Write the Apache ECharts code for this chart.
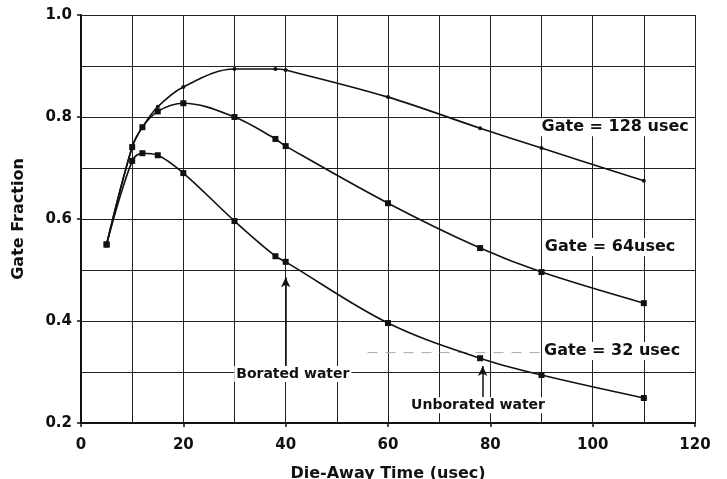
<!DOCTYPE html>
<html>
<head>
<meta charset="utf-8">
<title>Gate Fraction vs Die-Away Time</title>
<script src="https://cdn.jsdelivr.net/npm/echarts@6/dist/echarts.min.js"></script>
<style>
  html, body { margin: 0; padding: 0; background: #fff; }
  #chart { width: 727px; height: 479px; }
</style>
</head>
<body>
<div id="chart"></div>
<script>
// Die-away times (usec) at which each gate fraction was computed
const dieAway = [5, 10, 12, 15, 20, 30, 38, 40, 60, 78, 90, 110];

// Gate fraction for each gate width
const gate128 = [0.55, 0.741, 0.78, 0.820, 0.859, 0.894, 0.894, 0.892, 0.839, 0.778, 0.739, 0.675];
const gate64  = [0.55, 0.741, 0.78, 0.811, 0.827, 0.800, 0.757, 0.743, 0.631, 0.543, 0.496, 0.435];
const gate32  = [0.55, 0.714, 0.729, 0.725, 0.690, 0.596, 0.527, 0.516, 0.396, 0.327, 0.294, 0.249];

// Curve labels and water annotations (text, x, y in data units, font size)
const annotations = [
  ['Gate = 128 usec', 104.4, 0.780, 16],
  ['Gate = 64usec',   103.4, 0.545, 16],
  ['Gate = 32 usec',  103.8, 0.341, 16],
  ['Borated water',   41.4,  0.296, 14],
  ['Unborated water', 77.6,  0.235, 14]
];
// Arrows pointing to the borated / unborated water points
const arrows = [
  [[40, 0.310], [40, 0.486]],
  [[78.5, 0.251], [78.5, 0.312]]
];
// Faint dashed leader left of the 32 usec label
const leader = [[56, 0.338], [90, 0.338]];

const FONT = 'DejaVu Sans';

function pairs(xs, ys) { return xs.map((x, i) => [x, ys[i]]); }

function curve(name, ys, symbol, size) {
  return {
    name: name,
    type: 'line',
    data: pairs(dieAway, ys),
    smooth: 0.35,
    symbol: symbol,
    symbolSize: size,
    showAllSymbol: true,
    lineStyle: { color: '#111', width: 1.6 },
    itemStyle: { color: '#111' },
    z: 3
  };
}

const chart = echarts.init(document.getElementById('chart'), null, { renderer: 'canvas' });

const axisFont = { fontFamily: FONT, fontWeight: 'bold', color: '#111' };

chart.setOption({
  animation: false,
  backgroundColor: '#fff',
  grid: { left: 81, right: 32, top: 15, bottom: 56, containLabel: false, outerBoundsMode: 'none' },
  xAxis: {
    type: 'value',
    min: 0, max: 120, interval: 20,
    name: 'Die-Away Time (usec)',
    nameLocation: 'middle',
    nameGap: 43,
    nameTextStyle: Object.assign({ fontSize: 16 }, axisFont),
    axisLine: { show: true, lineStyle: { color: '#111', width: 2 } },
    axisTick: { show: true, length: 4, lineStyle: { color: '#111', width: 1.5 } },
    axisLabel: Object.assign({ fontSize: 15, margin: 15 }, axisFont),
    splitLine: { show: true, lineStyle: { color: '#222', width: 1 } },
    minorTick: { show: false, splitNumber: 2 },
    minorSplitLine: { show: true, lineStyle: { color: '#222', width: 1 } }
  },
  yAxis: {
    type: 'value',
    min: 0.2, max: 1.0, interval: 0.2,
    name: 'Gate Fraction',
    nameLocation: 'middle',
    nameGap: 54,
    nameTextStyle: Object.assign({ fontSize: 16 }, axisFont),
    axisLine: { show: true, lineStyle: { color: '#111', width: 2 } },
    axisTick: { show: true, length: 4, lineStyle: { color: '#111', width: 1.5 } },
    axisLabel: Object.assign({ fontSize: 15, margin: 9, formatter: v => v.toFixed(1) }, axisFont),
    splitLine: { show: true, lineStyle: { color: '#222', width: 1 } },
    minorTick: { show: false, splitNumber: 2 },
    minorSplitLine: { show: true, lineStyle: { color: '#222', width: 1 } }
  },
  series: [
    curve('Gate = 128 usec', gate128, 'circle', 4),
    curve('Gate = 64usec', gate64, 'rect', 6),
    Object.assign(curve('Gate = 32 usec', gate32, 'rect', 6), {
      markLine: {
        silent: true,
        symbol: ['none', 'arrow'],
        symbolSize: [7, 10],
        label: { show: false },
        lineStyle: { color: '#111', width: 1.5, type: 'solid' },
        data: arrows.map(a => [{ coord: a[0] }, { coord: a[1] }])
      }
    }),
    {
      type: 'line',
      data: leader,
      symbol: 'none',
      silent: true,
      lineStyle: { color: '#aaa', width: 1, type: [10, 8] },
      z: 1
    }
  ]
});

// Place the text annotations at their data positions, on a white backing
chart.setOption({
  graphic: annotations.map(a => {
    const p = chart.convertToPixel({ gridIndex: 0 }, [a[1], a[2]]);
    return {
      type: 'text',
      x: p[0], y: p[1],
      z: 10,
      style: {
        text: a[0],
        fontFamily: FONT,
        fontWeight: 'bold',
        fontSize: a[3],
        fill: '#111',
        align: 'center',
        verticalAlign: 'middle',
        backgroundColor: '#fff',
        padding: [1, 2]
      }
    };
  })
});
</script>
</body>
</html>
